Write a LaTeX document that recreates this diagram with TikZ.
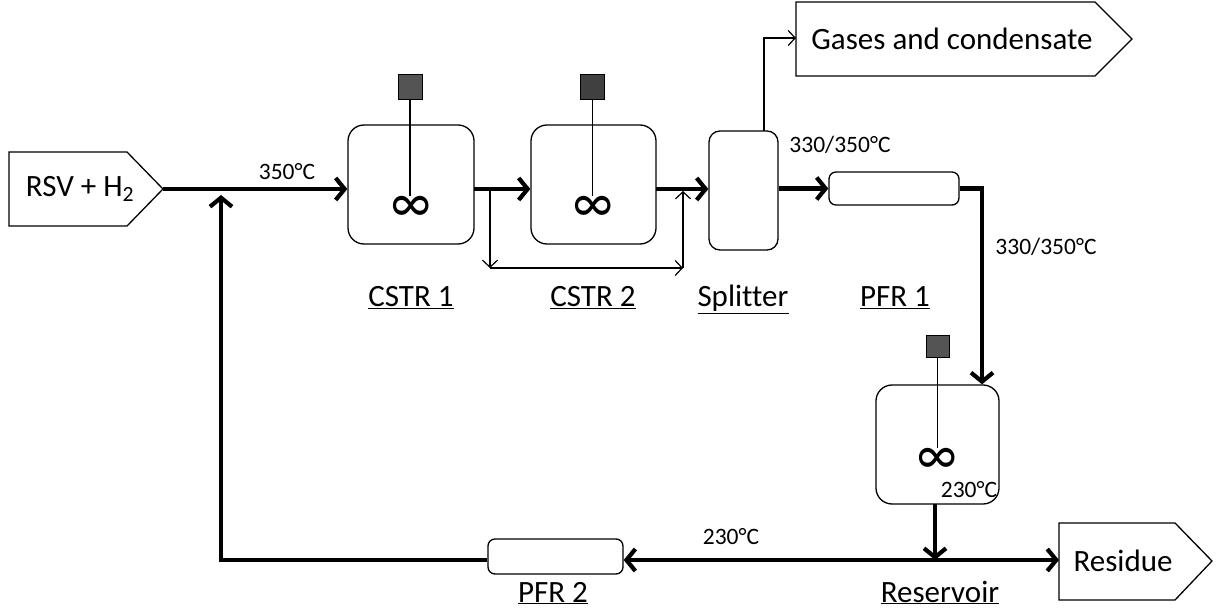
\documentclass[tikz,border=0pt]{standalone}
\usepackage{fontspec}
\setmainfont{Carlito}[Ligatures=NoCommon]
\usetikzlibrary{arrows.meta}

\tikzset{
  reactor/.style={draw, line width=1.3pt, rounded corners=16pt, inner sep=0pt},
  tube/.style={draw, line width=1.3pt, rounded corners=7pt, inner sep=0pt},
  motor/.style={draw, line width=1pt, inner sep=0pt},
  portbox/.style={draw, line width=1.3pt},
  stream/.style={line width=4.2pt, -{Straight Barb[length=9pt,width=22pt]}},
  bypass/.style={line width=1.2pt, -{Straight Barb[length=7pt,width=15pt]}},
  shaft/.style={line width=1.2pt},
  bigtext/.style={font=\fontsize{31}{36}\selectfont},
  temptext/.style={font=\fontsize{23.5}{27}\selectfont},
  infty/.style={font=\fontsize{46}{50}\selectfont, inner sep=0pt, text height=28pt, text depth=-7pt}
}
\newcommand{\stirsign}{\scalebox{1}[1.3]{∞}}

\begin{document}
\begin{tikzpicture}[x=1pt, y=-1pt]
  \useasboundingbox (0,0) rectangle (1218,612);

  % Feed and product boxes
  \draw[portbox] (9,152) -- (127,152) -- (163,189) -- (127,226) -- (9,226) -- cycle;
  \node[bigtext] (feed) at (80,189) {RSV + H\textsubscript{2}};
  \coordinate (feedtip) at (163,189);

  \draw[portbox] (796,2) -- (1095,2) -- (1132,39) -- (1095,76) -- (796,76) -- cycle;
  \node[bigtext] (gases) at (952,39) {Gases and condensate};
  \coordinate (gasin) at (796,38);

  \draw[portbox] (1059,523) -- (1175,523) -- (1212,561) -- (1175,600) -- (1059,600) -- cycle;
  \node[bigtext] (residue) at (1123,561) {Residue};
  \coordinate (resin) at (1059,560);

  % Reactors
  \node[reactor, minimum width=126pt, minimum height=119pt] (cstrA) at (411,184.5) {};
  \node[reactor, minimum width=125pt, minimum height=119pt] (cstrB) at (593.5,184.5) {};
  \node[reactor, minimum width=69pt, minimum height=119pt, rounded corners=11pt] (split) at (743.5,190.5) {};
  \node[tube, minimum width=130pt, minimum height=33pt] (pfrA) at (894,188.5) {};
  \node[reactor, minimum width=123pt, minimum height=119pt] (resv) at (937.5,444.5) {};
  \node[tube, minimum width=135pt, minimum height=35pt] (pfrB) at (555.5,556.5) {};

  % Stirrers
  \node[motor, fill=black!67, minimum width=24pt, minimum height=25pt] (motA) at (410,87.5) {};
  \node[motor, fill=black!75, minimum width=24pt, minimum height=25pt] (motB) at (592.5,87.5) {};
  \node[motor, fill=black!67, minimum width=23pt, minimum height=22pt] (motC) at (937.5,346) {};
  \node[infty] (infA) at (411,209) {\stirsign};
  \node[infty] (infB) at (593,209) {\stirsign};
  \node[infty] (infC) at (937,460) {\stirsign};
  \draw[shaft] (motA.south) -- (410,196);
  \draw[shaft] (motB.south) -- (592.5,196);
  \draw[shaft] (motC.south) -- (937.5,448);

  % Labels
  \node[bigtext, anchor=base] (lblA) at (411,307) {\underline{CSTR 1}};
  \node[bigtext, anchor=base] (lblB) at (593,307) {\underline{CSTR 2}};
  \node[bigtext, anchor=base] (lblS) at (743,307) {\underline{Splitter}};
  \node[bigtext, anchor=base] (lblP) at (895,307) {\underline{PFR 1}};
  \node[bigtext, anchor=base] (lblQ) at (553,602) {\underline{PFR 2}};
  \node[bigtext, anchor=base] (lblR) at (940,602) {\underline{Reservoir}};

  \node[temptext] (tfeed) at (287,172) {350°C};
  \node[temptext] (tsplit) at (840,145) {330/350°C};
  \node[temptext] (tdown) at (1046,247) {330/350°C};
  \node[temptext, inner sep=0pt] (tresv) at (969,490) {230°C};
  \node[temptext] (tback) at (731,537) {230°C};

  % Main streams
  \coordinate (mixA) at (221,189);
  \coordinate (outA) at (474,189);
  \coordinate (outB) at (656,189);
  \coordinate (turn) at (982,190);
  \coordinate (resout) at (935,504);
  \coordinate (junc) at (935,560);
  \draw[stream, -] (feedtip) -- (mixA);
  \draw[stream] (mixA) -- (cstrA.west |- feedtip);
  \draw[stream] (outA) -- (cstrB.west |- outA);
  \draw[stream] (outB) -- (split.west |- outB);
  \draw[stream] (split.east |- pfrA) -- (pfrA.west);
  \draw[stream] (pfrA.east) -| (resv.north east -| turn);
  \draw[stream] (resout) -- (junc);
  \draw[stream] (junc) -- (pfrB.east |- junc);
  \draw[stream] (junc) -- (resin);
  \draw[stream] (pfrB.west |- junc) -| (221,195);

  % Bypass around CSTR 2
  \coordinate (bpA) at (490,189);
  \coordinate (bpB) at (490,268);
  \coordinate (bpC) at (683,268);
  \coordinate (bpD) at (683,191);
  \draw[bypass] (bpA) -- (bpB);
  \draw[bypass] (bpB) -- (bpC);
  \draw[bypass] (bpC) -- (bpD);

  % Gas outlet
  \draw[bypass] (764,131) |- (gasin);
\end{tikzpicture}
\end{document}
